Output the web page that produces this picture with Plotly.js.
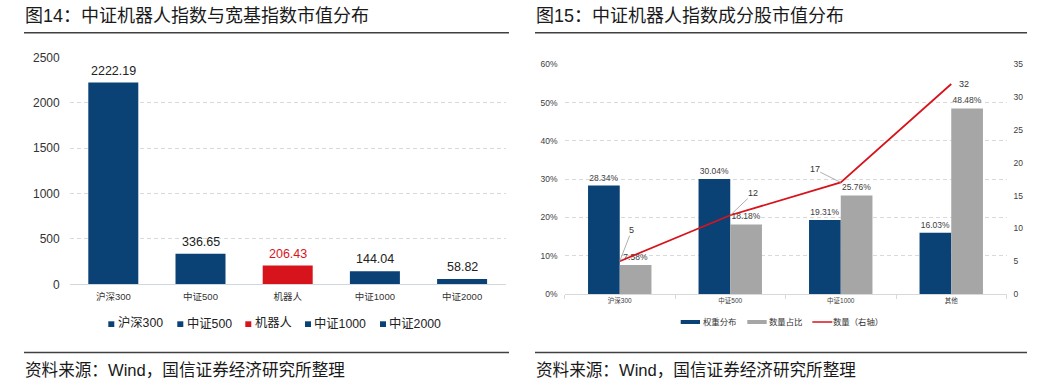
<!DOCTYPE html>
<html><head><meta charset="utf-8">
<script src="https://cdn.plot.ly/plotly-3.0.1.min.js"></script>
<style>html,body{margin:0;padding:0;background:#fff;} #chart{width:1057px;height:392px;}</style>
</head><body><div id="chart"></div>
<script>
// ---------- data ----------
const leftCategories = ['沪深300', '中证500', '机器人', '中证1000', '中证2000'];
const leftValues = [2222.19, 336.65, 206.43, 144.04, 58.82];
const leftTickVals = [0, 500, 1000, 1500, 2000, 2500];

const rightCategories = ['沪深300', '中证500', '中证1000', '其他'];
const weightShare = [0.2834, 0.3004, 0.1931, 0.1603];   // 权重分布
const countShare = [0.0758, 0.1818, 0.2576, 0.4848];    // 数量占比
const countValues = [5, 12, 17, 32];                    // 数量（右轴）
const rightSeriesNames = ['权重分布', '数量占比', '数量（右轴）'];

const leftTitle = '图14：中证机器人指数与宽基指数市值分布';
const rightTitle = '图15：中证机器人指数成分股市值分布';
const sourceText = '资料来源：Wind，国信证券经济研究所整理';

// ---------- style ----------
const W = 1057, H = 392;
const px = v => v / W, py = v => 1 - v / H;
const FONT = 'Liberation Sans, "Noto Sans CJK SC", sans-serif';
const BLUE = '#0a4275', RED = '#d7141c', GRAY = '#a6a6a6', GRID = '#d9d9d9';
const leftColors = leftCategories.map(c => c === '机器人' ? RED : BLUE);
const leftLabelColors = leftCategories.map(c => c === '机器人' ? RED : '#222222');
const pct = v => (v * 100).toFixed(2) + '%';

// ---------- traces ----------
const traces = [];
leftCategories.forEach((c, i) => {
  traces.push({
    type: 'bar', x: [c], y: [leftValues[i]], name: c,
    marker: { color: leftColors[i] }, width: 0.5734, offset: -0.2867,
    xaxis: 'x', yaxis: 'y', showlegend: false, hoverinfo: 'skip'
  });
});
traces.push({
  type: 'bar', x: rightCategories, y: weightShare, name: rightSeriesNames[0],
  marker: { color: BLUE }, xaxis: 'x2', yaxis: 'y2', showlegend: false,
  text: weightShare.map(pct), textposition: 'outside', constraintext: 'none', cliponaxis: false,
  textfont: { size: 8.5, color: '#404040', family: FONT }, hoverinfo: 'skip'
});
traces.push({
  type: 'bar', x: rightCategories, y: countShare, name: rightSeriesNames[1],
  marker: { color: GRAY }, xaxis: 'x2', yaxis: 'y2', showlegend: false,
  text: countShare.map(pct), textposition: 'outside', constraintext: 'none', cliponaxis: false,
  textfont: { size: 8.5, color: '#404040', family: FONT }, hoverinfo: 'skip'
});
traces.push({
  type: 'scatter', mode: 'lines', x: rightCategories, y: countValues, name: rightSeriesNames[2],
  line: { color: RED, width: 1.75 }, xaxis: 'x2', yaxis: 'y3', showlegend: false, hoverinfo: 'skip'
});

// ---------- annotations & shapes ----------
const annotations = [];
const shapes = [];

// titles, rules, sources
[[24, 509, leftTitle], [535, 1027, rightTitle]].forEach(([x0, x1, t]) => {
  annotations.push({ xref: 'paper', yref: 'paper', x: px(x0), y: py(16), xanchor: 'left', yanchor: 'middle',
    text: t, showarrow: false, borderpad: 0, font: { size: 18, color: '#1a1a1a', family: FONT } });
  annotations.push({ xref: 'paper', yref: 'paper', x: px(x0), y: py(370.7), xanchor: 'left', yanchor: 'middle',
    text: sourceText, showarrow: false, borderpad: 0, font: { size: 16.6, color: '#1a1a1a', family: FONT } });
  shapes.push({ type: 'line', xref: 'paper', yref: 'paper', x0: px(x0), x1: px(x1), y0: py(32.7), y1: py(32.7),
    line: { color: '#404040', width: 1.5 } });
  shapes.push({ type: 'line', xref: 'paper', yref: 'paper', x0: px(x0), x1: px(x1), y0: py(352.5), y1: py(352.5),
    line: { color: '#404040', width: 1.5 } });
});

// left value labels
leftCategories.forEach((c, i) => {
  annotations.push({ xref: 'x', yref: 'y', x: c, y: leftValues[i], yanchor: 'bottom', yshift: 4,
    text: leftValues[i].toFixed(2), showarrow: false, borderpad: 0,
    font: { size: 12.5, color: leftLabelColors[i], family: FONT } });
});

// line labels (leader offsets in px)
const lineLabelOffsets = [[12, -31], [23, -22], [-26, -13], [13, 0]];
const lineLabelLeader = [true, true, true, false];
rightCategories.forEach((c, i) => {
  const a = { xref: 'x2', yref: 'y3', x: c, y: countValues[i], text: String(countValues[i]),
    font: { size: 9, color: '#333', family: FONT }, borderpad: 0 };
  if (lineLabelLeader[i]) {
    Object.assign(a, { showarrow: true, ax: lineLabelOffsets[i][0], ay: lineLabelOffsets[i][1],
      arrowhead: 0, arrowwidth: 0.8, arrowcolor: '#9a9a9a', standoff: 0 });
  } else {
    Object.assign(a, { showarrow: false, xshift: lineLabelOffsets[i][0], yshift: -lineLabelOffsets[i][1] });
  }
  annotations.push(a);
});

// left legend (manual)
const leftLegendMarkerX = [108.3, 177.3, 245.3, 305, 380];
leftCategories.forEach((c, i) => {
  const x0 = leftLegendMarkerX[i];
  shapes.push({ type: 'rect', xref: 'paper', yref: 'paper', x0: px(x0), x1: px(x0 + 6), y0: py(327), y1: py(321.3),
    fillcolor: leftColors[i], line: { width: 0 } });
  annotations.push({ xref: 'paper', yref: 'paper', x: px(x0 + 8.4), y: py(323), xanchor: 'left', yanchor: 'middle',
    text: c, showarrow: false, borderpad: 0, font: { size: 12.3, color: '#222', family: FONT } });
});

// right legend (manual)
const rightLegendX = [[680.7, 700, 701.7], [747.3, 766.7, 767.7], [812.3, 832.3, 832.3]];
const rightLegendColors = [BLUE, GRAY, RED];
rightSeriesNames.forEach((n, i) => {
  const [x0, x1, tx] = rightLegendX[i];
  if (i < 2) {
    shapes.push({ type: 'rect', xref: 'paper', yref: 'paper', x0: px(x0), x1: px(x1), y0: py(324), y1: py(320),
      fillcolor: rightLegendColors[i], line: { width: 0 } });
  } else {
    shapes.push({ type: 'line', xref: 'paper', yref: 'paper', x0: px(x0), x1: px(x1), y0: py(322), y1: py(322),
      line: { color: rightLegendColors[i], width: 1.5 } });
  }
  annotations.push({ xref: 'paper', yref: 'paper', x: px(tx), y: py(321.8), xanchor: 'left', yanchor: 'middle',
    text: n, showarrow: false, borderpad: 0, font: { size: 8.4, color: '#333', family: FONT } });
});

// ---------- layout ----------
const layout = {
  width: W, height: H, autosize: false,
  margin: { l: 0, r: 0, t: 0, b: 0 },
  paper_bgcolor: '#fff', plot_bgcolor: 'rgba(0,0,0,0)',
  font: { family: FONT, color: '#333' },
  showlegend: false,
  barmode: 'group', bargap: 0.426, bargroupgap: 0,
  xaxis: {
    domain: [px(69.7), px(505.7)], anchor: 'y', type: 'category',
    showline: true, linecolor: '#d0d7de', linewidth: 1, ticks: '', showgrid: false,
    tickfont: { size: 9.5, color: '#333' }, ticklabelstandoff: 3, fixedrange: true
  },
  yaxis: {
    domain: [1 - 284.3 / H, 1 - 57.3 / H], anchor: 'x', range: [0, 2500], tickvals: leftTickVals,
    showgrid: true, gridcolor: GRID, griddash: '4px,3px', gridwidth: 1, zeroline: false, showline: false,
    ticks: '', tickfont: { size: 12, color: '#333' }, ticklabelstandoff: 9, fixedrange: true
  },
  xaxis2: {
    domain: [px(564.5), px(1006.5)], anchor: 'y2', type: 'category',
    showline: true, linecolor: GRID, linewidth: 1, ticks: 'outside', tickson: 'boundaries',
    ticklen: 4, tickcolor: GRID, showgrid: false,
    tickfont: { size: 6.5, color: '#404040' }, fixedrange: true
  },
  yaxis2: {
    domain: [1 - 294 / H, 1 - 64.3 / H], anchor: 'x2', range: [0, 0.6], dtick: 0.1, tickformat: '.0%',
    showgrid: true, gridcolor: GRID, griddash: '4px,3px', gridwidth: 1, zeroline: false, showline: false,
    ticks: '', tickfont: { size: 8.5, color: '#404040' }, ticklabelstandoff: 6, fixedrange: true
  },
  yaxis3: {
    overlaying: 'y2', anchor: 'x2', side: 'right', range: [0, 35], dtick: 5,
    showgrid: false, zeroline: false, showline: false, ticks: '',
    tickfont: { size: 8.5, color: '#404040' }, ticklabelstandoff: 6, fixedrange: true
  },
  annotations: annotations,
  shapes: shapes
};

Plotly.newPlot('chart', traces, layout, { staticPlot: true, displayModeBar: false });
</script>
</body></html>
